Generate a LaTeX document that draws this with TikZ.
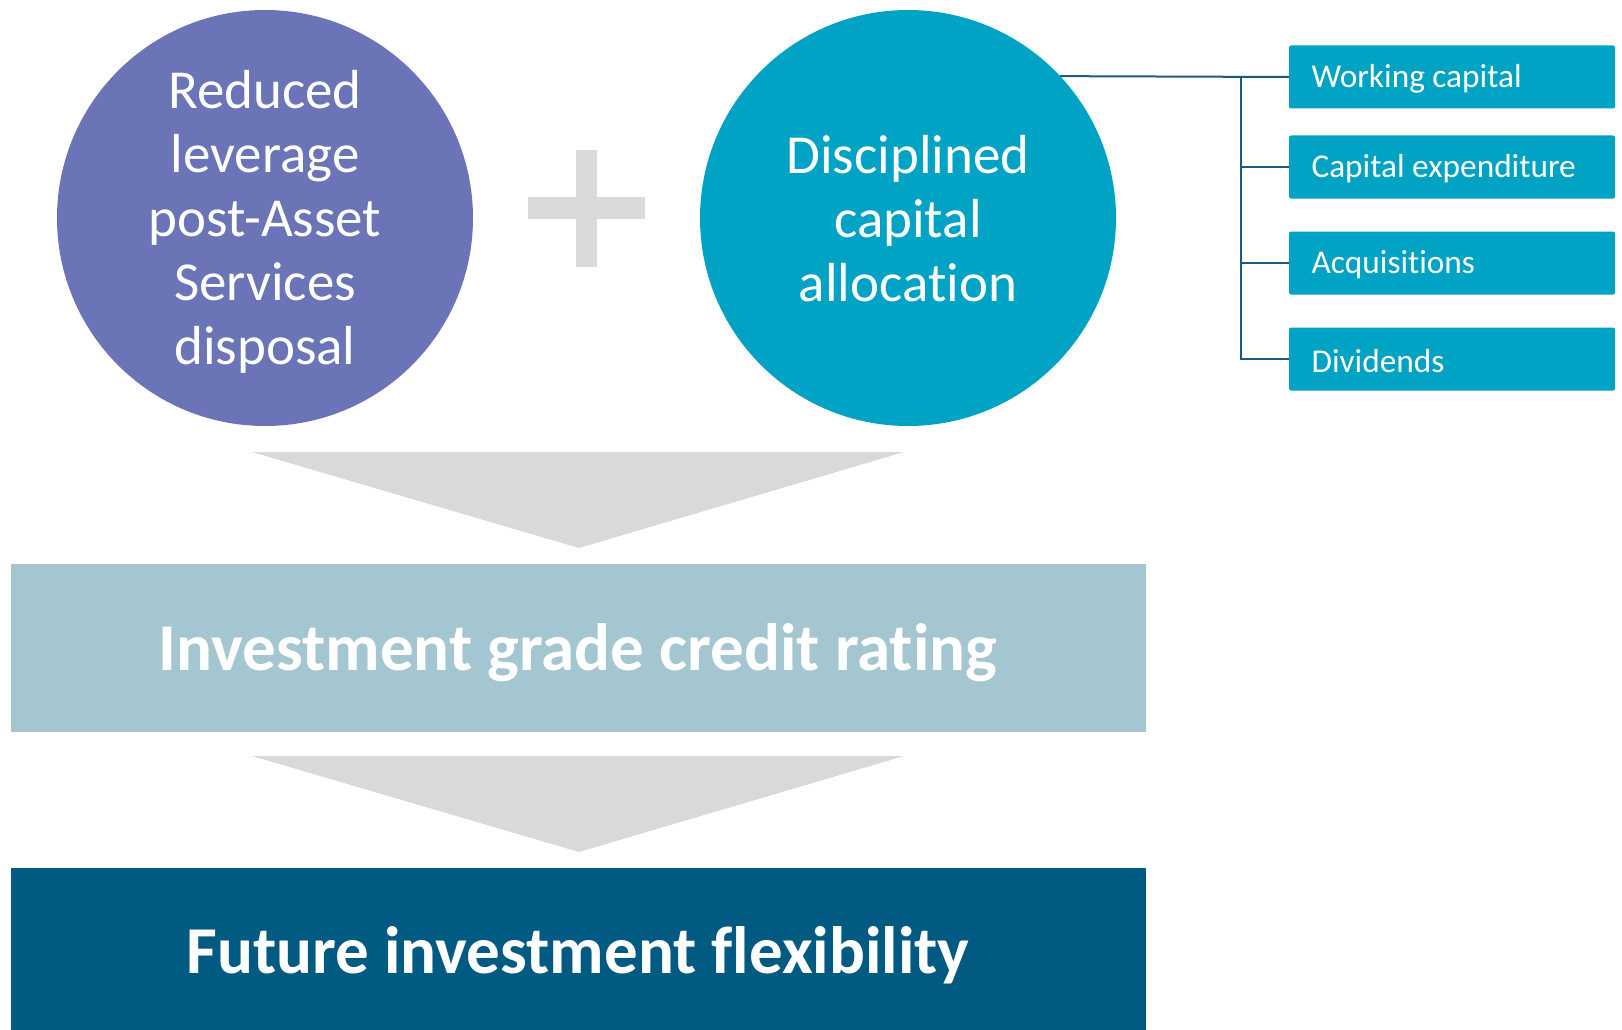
\documentclass[tikz,border=0pt]{standalone}
\usepackage{fontspec}
\setmainfont[Ligatures={NoCommon}]{Carlito}
\begin{document}
\definecolor{violet}{RGB}{106,116,183}
\definecolor{teal}{RGB}{0,163,196}
\definecolor{paleblue}{RGB}{163,198,208}
\definecolor{deepblue}{RGB}{0,90,130}
\definecolor{linkblue}{RGB}{26,90,133}
\definecolor{arrowgrey}{RGB}{217,217,217}
\begin{tikzpicture}[x=1pt,y=-1pt,
  bigcircle/.style={circle,minimum size=416pt,inner sep=0pt,outer sep=0pt},
  circletext/.style={text=white,align=center,font=\fontsize{55}{64}\selectfont},
  itembox/.style={rectangle,rounded corners=2pt,fill=teal,minimum width=326pt,
    minimum height=63pt,inner sep=0pt,outer sep=0pt},
  itemtext/.style={anchor=west,text=white,font=\fontsize{33.3}{38}\selectfont},
  band/.style={rectangle,minimum width=1135pt,inner sep=0pt,outer sep=0pt},
  bandtext/.style={text=white,font=\bfseries\fontsize{67}{76}\selectfont},
  conn/.style={draw=linkblue,line width=2pt},
  chevron/.style={fill=arrowgrey}]
\useasboundingbox (0,0) rectangle (1622,1030);

% two source circles
\node[bigcircle,fill=violet] (c1) at (265,218) {};
\node[bigcircle,fill=teal] (c2) at (908,218) {};
\node[circletext] (c1t) at ([yshift=-4pt]c1.center)
  {Reduced\\leverage\\post-Asset\\Services\\disposal};
\node[circletext] (c2t) at ([yshift=-1pt]c2.center)
  {Disciplined\\capital\\allocation};

% plus sign between them
\fill[arrowgrey] (528,197) rectangle (645,219);
\fill[arrowgrey] (576,150) rectangle (597,267);

% allocation items
\node[itembox] (b1) at (1452,77) {};
\node[itembox] (b2) at (1452,167) {};
\node[itembox] (b3) at (1452,263) {};
\node[itembox] (b4) at (1452,359) {};
\node[itemtext] (t1) at ([xshift=19pt,yshift=-2pt]b1.west) {Working capital};
\node[itemtext] (t2) at ([xshift=19pt,yshift=-2pt]b2.west) {Capital expenditure};
\node[itemtext] (t3) at ([xshift=19pt,yshift=-2pt]b3.west) {Acquisitions};
\node[itemtext] (t4) at ([xshift=19pt,yshift=-2pt]b4.west) {Dividends};

% bracket connector
\coordinate (trunk) at (1241,77);
\draw[conn] (c2.43) -- (b1.west);
\draw[conn] (trunk) |- (b4.west);
\draw[conn] (trunk |- b2.west) -- (b2.west);
\draw[conn] (trunk |- b3.west) -- (b3.west);

% downward chevrons
\fill[chevron] (252,452) -- (904,452) -- (579,548) -- cycle;
\fill[chevron] (252,756) -- (904,756) -- (579,852) -- cycle;

% outcome bands
\node[band,fill=paleblue,minimum height=168pt] (r1) at (578,648) {};
\node[band,fill=deepblue,minimum height=162pt] (r2) at (578,949) {};
\node[bandtext] (r1t) at ([yshift=-5pt]r1.center) {Investment grade credit rating};
\node[bandtext] (r2t) at ([yshift=-6pt]r2.center) {Future investment flexibility};
\end{tikzpicture}
\end{document}
